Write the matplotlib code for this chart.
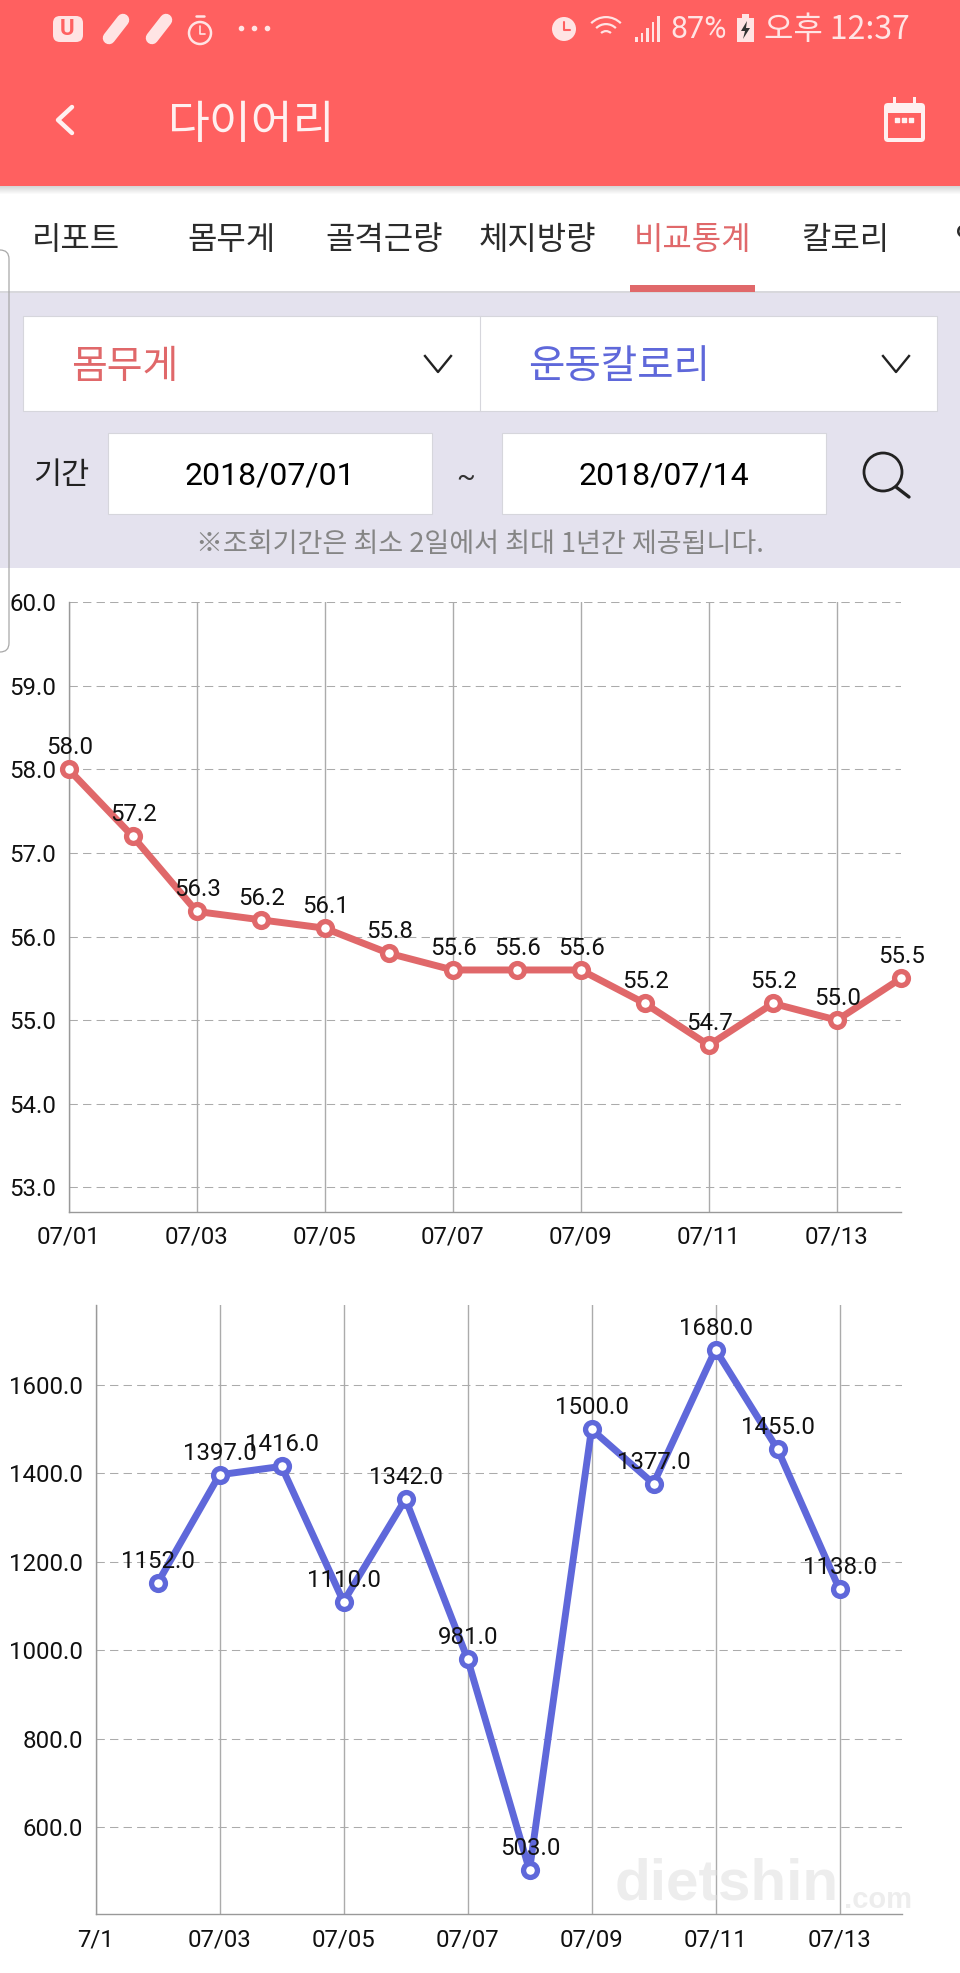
import matplotlib
matplotlib.use('Agg')
import matplotlib.pyplot as plt
from matplotlib.patches import Rectangle, Circle, FancyBboxPatch, Wedge, Polygon

W, H = 960, 1973
RED = '#FF6060'
SALMON = '#E0686A'
BLUE = '#5F68DA'
PANEL = '#E4E2EE'
GRID = '#ABABAB'
KR = ['Noto Sans CJK KR', 'DejaVu Sans']

days = list(range(1, 15))
weight = [58.0, 57.2, 56.3, 56.2, 56.1, 55.8, 55.6, 55.6, 55.6, 55.2, 54.7, 55.2, 55.0, 55.5]
cal_days = list(range(2, 14))
calories = [1152.0, 1397.0, 1416.0, 1110.0, 1342.0, 981.0, 503.0, 1500.0, 1377.0, 1680.0, 1455.0, 1138.0]

tick_days = [1, 3, 5, 7, 9, 11, 13]
weight_xlabels = ['07/01', '07/03', '07/05', '07/07', '07/09', '07/11', '07/13']
cal_xlabels = ['7/1', '07/03', '07/05', '07/07', '07/09', '07/11', '07/13']
weight_yticks = [53, 54, 55, 56, 57, 58, 59, 60]
cal_yticks = [600, 800, 1000, 1200, 1400, 1600]

tabs = ['리포트', '몸무게', '골격근량', '체지방량', '비교통계', '칼로리']
tab_x = [76, 231, 384, 537, 693, 845]

plt.rcParams['font.family'] = ['Roboto', 'DejaVu Sans']
fig = plt.figure(figsize=(W / 100, H / 100), dpi=100, facecolor='white')


def px_axes(left, top, right, bottom):
    return fig.add_axes([left / W, 1 - bottom / H, (right - left) / W, (bottom - top) / H])


# page furniture, in pixel coordinates
bg = fig.add_axes([0, 0, 1, 1])
bg.set_xlim(0, W)
bg.set_ylim(H, 0)
bg.axis('off')


def rect(x0, y0, x1, y1, **kw):
    bg.add_patch(Rectangle((x0, y0), x1 - x0, y1 - y0, **kw))


def stroke(xs, ys, color, lw=2.5):
    bg.plot(xs, ys, color=color, lw=lw, solid_capstyle='round', solid_joinstyle='round')


rect(0, 0, W, 186, fc=RED, ec='none')
for i in range(8):
    rect(0, 186 + i, W, 187 + i, fc='black', ec='none', alpha=0.16 * (1 - i / 8))

rect(0, 293, W, 568, fc=PANEL, ec='none')
rect(0, 291, W, 293, fc='#D8D8DC', ec='none')
rect(629.5, 285, 755, 292, fc=SALMON, ec='none')
bg.add_patch(FancyBboxPatch((-12, 250), 21, 402, boxstyle='round,pad=0,rounding_size=9',
                            fc='none', ec='#A8A8A8', lw=0.9))

# status bar
WHITE = '#FFE4E4'
bg.add_patch(FancyBboxPatch((53, 16), 30, 26, boxstyle='round,pad=0,rounding_size=7', fc=WHITE, ec='none'))
bg.text(67, 29, 'U', color=RED, fontsize=16, fontweight='bold', ha='center', va='center')
for cx in [116, 159]:
    bg.plot([cx - 7, cx + 7], [38, 20], color=WHITE, lw=9, solid_capstyle='round')
bg.add_patch(Circle((200, 33), 11, fc='none', ec=WHITE, lw=1.8))
stroke([200, 200, 205], [26, 34, 34], WHITE, 1.2)
stroke([196, 204], [16, 16], WHITE, 1.8)
bg.scatter([241, 254, 267], [28, 28, 28], s=9, color=WHITE)
bg.add_patch(Circle((564, 29), 12, fc=WHITE, ec='none'))
stroke([564, 564, 570], [22, 30, 30], RED, 1.5)
for r, lw in [(22, 2.2), (15, 2.2), (8, 2.2)]:
    bg.add_patch(Wedge((606, 38), r, 225, 315, width=lw, fc=WHITE, ec='none'))
for i, h in enumerate([5, 9, 14, 20, 26]):
    rect(635 + i * 5.5, 42 - h, 637.5 + i * 5.5, 42, fc=WHITE, ec='none')
bg.text(699, 30, '87%', color=WHITE, fontsize=22, ha='center', va='center')
rect(737, 18, 754, 42, fc=WHITE, ec='none')
rect(742, 14, 749, 18, fc=WHITE, ec='none')
bg.add_patch(Polygon([[747, 21], [741, 31], [745, 31], [743, 39], [750, 28], [746, 28]], fc='#333333', ec='none'))
bg.text(837, 30, '오후 12:37', color=WHITE, fontsize=23, ha='center', va='center', family=KR)

# app bar
stroke([72, 58, 72], [107, 120, 133], '#FFF0F0', 3.2)
bg.text(252, 125, '다이어리', color='#FFF0F0', fontsize=32.8, ha='center', va='center', family=KR)
bg.add_patch(FancyBboxPatch((884, 103), 41, 39, boxstyle='round,pad=0,rounding_size=4', fc='#FFF0F0', ec='none'))
rect(893, 97, 896, 106, fc='#FFF0F0', ec='none')
rect(913, 97, 916, 106, fc='#FFF0F0', ec='none')
rect(888, 113, 921, 138, fc=RED, ec='none')
bg.scatter([897, 904, 911], [120, 120, 120], s=9, marker='s', color='#FFF0F0')

# tabs
for name, x in zip(tabs, tab_x):
    col = SALMON if name == '비교통계' else '#2B2B2B'
    bg.text(x, 240, name, color=col, fontsize=23, ha='center', va='center', family=KR)
bg.text(955, 240, '영', color='#2B2B2B', fontsize=23, ha='left', va='center', family=KR, clip_on=True)

# selectors
rect(23, 316, 937, 411, fc='white', ec='#D6D6DC', lw=0.8)
bg.plot([479.5, 479.5], [316, 411], color='#D6D6DC', lw=0.8)
bg.text(125, 367, '몸무게', color=SALMON, fontsize=28, ha='center', va='center', family=KR)
bg.text(619, 367, '운동칼로리', color=BLUE, fontsize=28.5, ha='center', va='center', family=KR)
for x0 in [425, 883]:
    bg.plot([x0, x0 + 13, x0 + 26], [356, 372, 356], color='#222222', lw=1.7)

bg.text(61, 476, '기간', color='#222222', fontsize=22, ha='center', va='center', family=KR)
rect(108, 433, 432, 514, fc='white', ec='#D6D6DC', lw=0.8)
rect(501.5, 433, 826, 514, fc='white', ec='#D6D6DC', lw=0.8)
bg.text(270, 476, '2018/07/01', color='black', fontsize=23, ha='center', va='center')
bg.text(664, 476, '2018/07/14', color='black', fontsize=23, ha='center', va='center')
bg.text(466, 477, '~', color='#333333', fontsize=20, ha='center', va='center')
bg.add_patch(Circle((883, 472), 19, fc='none', ec='#222222', lw=2))
bg.plot([896, 909], [487, 497], color='#222222', lw=2.4, solid_capstyle='round')
bg.text(480, 545, '※조회기간은 최소 2일에서 최대 1년간 제공됩니다.', color='#858585', fontsize=19.5,
        ha='center', va='center', family=KR)


def draw_chart(ax, xs, ys, color, xlim, ylim, yticks, xlabels, fmt, offset):
    ax.set_xlim(*xlim)
    ax.set_ylim(*ylim)
    ax.patch.set_alpha(0)
    for s in ['top', 'right']:
        ax.spines[s].set_visible(False)
    for s in ['left', 'bottom']:
        ax.spines[s].set_color('#999999')
        ax.spines[s].set_linewidth(1)
    ax.set_xticks(tick_days)
    ax.set_xticklabels(xlabels)
    ax.set_yticks(yticks)
    ax.set_yticklabels([fmt % v for v in yticks])
    ax.tick_params(axis='both', length=0, labelsize=17.3, labelcolor='#111111')
    ax.tick_params(axis='x', pad=10)
    ax.tick_params(axis='y', pad=9)
    ax.grid(axis='x', color=GRID, lw=1)
    ax.grid(axis='y', color=GRID, lw=0.75, linestyle=(0, (8, 5)))
    ax.set_axisbelow(True)
    ax.plot(xs, ys, color=color, lw=5, marker='o', ms=10, mfc='white', mec=color, mew=3.8,
            clip_on=False, zorder=3)
    for x, y in zip(xs, ys):
        ax.annotate('%.1f' % y, (x, y), xytext=(0.5, offset), textcoords='offset points',
                    ha='center', va='center', fontsize=17.3, color='#111111', zorder=4)


ax1 = px_axes(68.5, 602, 901, 1212)
draw_chart(ax1, days, weight, SALMON, (1, 14), (52.706, 60), weight_yticks, weight_xlabels, '%.1f', 15.5)

ax2 = px_axes(95.5, 1305, 901.5, 1914.3)
draw_chart(ax2, cal_days, calories, BLUE, (1, 14), (403.3, 1780.9), cal_yticks, cal_xlabels, '%.1f', 15.5)

# watermark
bg2 = fig.add_axes([0, 0, 1, 1])
bg2.set_xlim(0, W)
bg2.set_ylim(H, 0)
bg2.axis('off')
bg2.text(727, 1885, 'dietshin', color='#DCDCDC', alpha=0.5, fontsize=42, ha='center', va='center',
         fontweight='bold', family='Liberation Sans')
bg2.text(878, 1900, '.com', color='#DCDCDC', alpha=0.5, fontsize=21, ha='center', va='center',
         fontweight='bold', family='Liberation Sans')

fig.savefig('out.png', dpi=100)
